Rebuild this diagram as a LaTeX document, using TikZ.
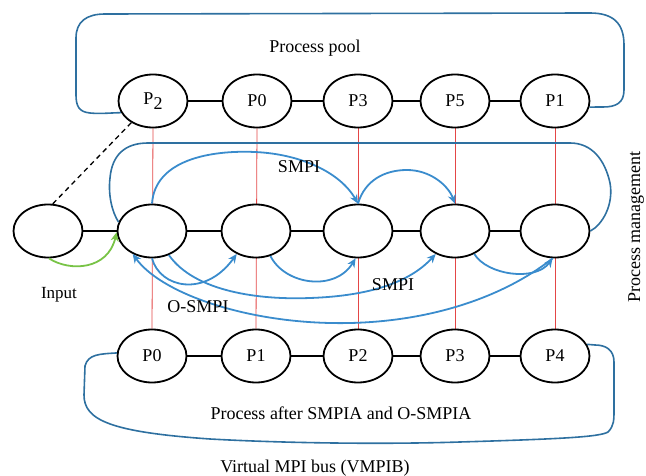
\documentclass[tikz,border=0pt]{standalone}
\usepackage{fontspec}
\setmainfont{Liberation Serif}
\usetikzlibrary{shapes.geometric,arrows.meta,backgrounds}
\definecolor{loopblue}{RGB}{46,112,160}
\definecolor{arcblue}{RGB}{58,140,205}
\definecolor{feedgreen}{RGB}{120,195,70}
\definecolor{linkred}{RGB}{228,70,70}
\begin{document}
\begin{tikzpicture}[x=1pt,y=-1pt,
  proc/.style={ellipse, draw, line width=1.8pt, fill=white, minimum width=69pt,
    minimum height=53pt, inner sep=0pt, font=\fontsize{18}{20}\selectfont},
  link/.style={line width=1.3pt},
  vlink/.style={linkred, line width=0.8pt},
  bus/.style={loopblue, line width=1.6pt},
  flow/.style={arcblue, line width=1.8pt, -{Stealth[length=9pt,width=8pt]}},
  feed/.style={feedgreen, line width=1.8pt, -{Stealth[length=9pt,width=8pt]}},
  lbl/.style={font=\fontsize{18}{20}\selectfont, inner sep=0pt}]
\useasboundingbox (0,0) rectangle (646,476);

% process pool row
\node[proc] (t1) at (153,101) {P\raisebox{-5pt}{2}};
\node[proc] (t2) at (257,101) {P0};
\node[proc] (t3) at (358,101) {P3};
\node[proc] (t4) at (455,101) {P5};
\node[proc] (t5) at (555,101) {P1};

% process management row
\node[proc] (m0) at (48,231) {};
\node[proc] (m1) at (152,231) {};
\node[proc] (m2) at (256,231) {};
\node[proc] (m3) at (358,231) {};
\node[proc] (m4) at (455,231) {};
\node[proc] (m5) at (555,231) {};

% row after SMPIA and O-SMPIA
\node[proc] (b1) at (152,356) {P0};
\node[proc] (b2) at (256,356) {P1};
\node[proc] (b3) at (358,356) {P2};
\node[proc] (b4) at (455,356) {P3};
\node[proc] (b5) at (555,356) {P4};

% vertical links through the three rows
\begin{scope}[on background layer]
  \draw[vlink] (t1.south) -- (b1.north);
  \draw[vlink] (t2.south) -- (b2.north);
  \draw[vlink] (t3.south) -- (b3.north);
  \draw[vlink] (t4.south) -- (b4.north);
  \draw[vlink] (t5.south) -- (b5.north);
\end{scope}

% horizontal links
\draw[link] (t1.east) -- (t2.west);
\draw[link] (t2.east) -- (t3.west);
\draw[link] (t3.east) -- (t4.west);
\draw[link] (t4.east) -- (t5.west);
\draw[link] (m0.east) -- (m1.west);
\draw[link] (m1.east) -- (m2.west);
\draw[link] (m2.east) -- (m3.west);
\draw[link] (m3.east) -- (m4.west);
\draw[link] (m4.east) -- (m5.west);
\draw[link] (b1.east) -- (b2.west);
\draw[link] (b2.east) -- (b3.west);
\draw[link] (b3.east) -- (b4.west);
\draw[link] (b4.east) -- (b5.west);

% input to first process
\draw[dashed, line width=1.3pt, dash pattern=on 5pt off 4pt] (m0.80) -- (t1.-135);
\draw[feed] (m0.-88) .. controls (70,272) and (108,270) .. (m1.182);

% process pool loop
\draw[bus] (t1.200) .. controls (108,113) and (100,114) .. (90,113)
  .. controls (79,112) and (76,106) .. (76,95) -- (76,38)
  .. controls (76,22) and (86,14) .. (105,14) -- (590,13)
  .. controls (614,13) and (624,24) .. (624,45) -- (624,90)
  .. controls (624,103) and (616,107) .. (603,107) -- (t5.-10);

% process management loop
\draw[bus] (m1.165) .. controls (112,212) and (108,195) .. (110,178)
  .. controls (112,155) and (125,143) .. (148,143) -- (570,143)
  .. controls (592,143) and (605,160) .. (610,183)
  .. controls (614,205) and (602,225) .. (m5.east);

% virtual MPI bus loop
\draw[bus] (b1.175) .. controls (100,354) and (88,354) .. (85,366) -- (84,395)
  .. controls (84,420) and (110,432) .. (210,439)
  .. controls (300,444) and (400,444) .. (460,442)
  .. controls (560,439) and (600,437) .. (608,432)
  .. controls (614,426) and (614,420) .. (614,410) -- (614,362)
  .. controls (614,350) and (606,345) .. (595,345) -- (b5.20);

% SMPI transfers above the row
\draw[flow] (m1.north) .. controls (155,160) and (210,150) .. (255,152)
  .. controls (300,154) and (340,172) .. (m3.north);
\draw[flow] (m3.north) .. controls (365,180) and (385,170) .. (407,170)
  .. controls (430,170) and (448,185) .. (m4.north);

% SMPI transfers below the row
\draw[flow] (m1.-90) .. controls (160,288) and (205,298) .. (m2.-130);
\draw[flow] (m1.-55) .. controls (195,292) and (260,300) .. (310,298)
  .. controls (370,296) and (410,282) .. (m4.-130);
\draw[flow] (m2.-60) .. controls (285,285) and (335,292) .. (m3.-95);
\draw[flow] (m4.-50) .. controls (487,275) and (535,282) .. (m5.-95);

% O-SMPI transfer back to the first process
\draw[flow] (m5.-95) .. controls (500,300) and (420,325) .. (330,323)
  .. controls (240,321) and (160,292) .. (m1.-130);

% captions
\node[lbl] (poolcap) at (315,48) {Process pool};
\node[lbl] (aftercap) at (341,413) {Process after SMPIA and O-SMPIA};
\node[lbl] (buscap) at (315,468) {Virtual MPI bus (VMPIB)};
\node[lbl, font=\fontsize{17}{20}\selectfont] (incap) at (59,295) {Input};
\node[lbl] (ocap) at (198,307) {O-SMPI};
\node[lbl] (s1cap) at (299,167) {SMPI};
\node[lbl] (s2cap) at (393,285) {SMPI};
\node[lbl, rotate=90, anchor=base west] (pmcap) at (640,303) {Process management};
\end{tikzpicture}
\end{document}
